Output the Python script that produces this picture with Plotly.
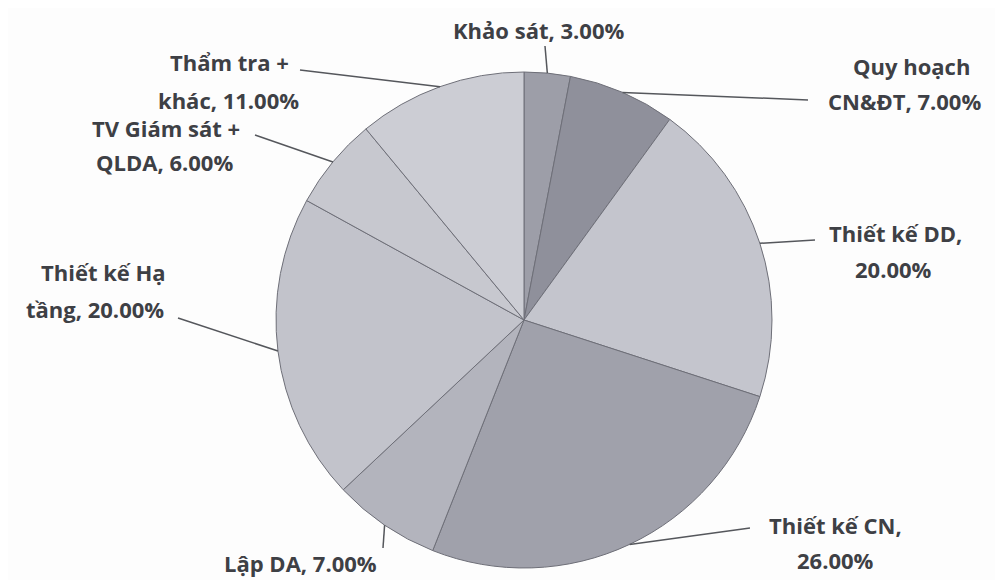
import math
import plotly.graph_objects as go

categories = ["Khảo sát", "Quy hoạch CN&ĐT", "Thiết kế DD", "Thiết kế CN",
              "Lập DA", "Thiết kế Hạ tầng", "TV Giám sát + QLDA", "Thẩm tra + khác"]
values = [3.0, 7.0, 20.0, 26.0, 7.0, 20.0, 6.0, 11.0]
colors = ["#9d9ea8", "#8f909b", "#c4c5cd", "#a0a1ab", "#b3b4bd", "#c2c3cb", "#c7c8cf", "#cccdd4"]

label_lines = [
    ["Khảo sát, 3.00%"],
    ["Quy hoạch", "CN&ĐT, 7.00%"],
    ["Thiết kế DD,", "20.00%"],
    ["Thiết kế CN,", "26.00%"],
    ["Lập DA, 7.00%"],
    ["Thiết kế Hạ", "tầng, 20.00%"],
    ["TV Giám sát +", "QLDA, 6.00%"],
    ["Thẩm tra +", "khác, 11.00%"],
]
# positions in page pixels of the 1003x580 view
label_pos = [
    [(538, 30)],
    [(911, 66), (904, 101)],
    [(895, 233), (893, 269)],
    [(835, 525), (835, 560)],
    [(300, 563)],
    [(103, 272), (95, 309)],
    [(166, 128), (164, 162)],
    [(229, 62), (228, 100)],
]
leader_end = [(545, 46), (808, 100), (815, 240), (750, 528), (383, 548),
              (178, 318), (255, 135), (300, 70)]

OFF = 8  # page body margin
W, H = 1003 - OFF, 580 - OFF
cx, cy, R = 524 - OFF, 320 - OFF, 248

fig = go.Figure(go.Pie(
    labels=categories, values=values, sort=False, direction="clockwise", rotation=0,
    marker=dict(colors=colors, line=dict(color="#6e6f78", width=1)),
    textinfo="none", hoverinfo="label+percent", showlegend=False,
    domain=dict(x=[(cx - R) / W, (cx + R) / W], y=[1 - (cy + R) / H, 1 - (cy - R) / H]),
))

def px(x, y):
    return x / W, 1 - y / H

total = sum(values)
cum = 0.0
shapes = []
annotations = []
for i, v in enumerate(values):
    mid = (cum + v / 2) / total * 2 * math.pi
    cum += v
    ex = cx + R * math.sin(mid)
    ey = cy - R * math.cos(mid)
    x0, y0 = px(ex, ey)
    x1, y1 = px(leader_end[i][0] - OFF, leader_end[i][1] - OFF)
    shapes.append(dict(type="line", xref="paper", yref="paper", x0=x0, y0=y0, x1=x1, y1=y1,
                       line=dict(color="#55575c", width=1.5)))
    for text, (lx, ly) in zip(label_lines[i], label_pos[i]):
        ax, ay = px(lx - OFF, ly - OFF)
        annotations.append(dict(text="<b>" + text + "</b>", x=ax, y=ay, xref="paper", yref="paper",
                                xanchor="center", yanchor="middle", showarrow=False,
                                font=dict(family="Open Sans, Lato, sans-serif", size=22, color="#3e4045")))

fig.update_layout(width=W, height=H, margin=dict(l=0, r=0, t=0, b=0),
                  paper_bgcolor="#fdfdfd", plot_bgcolor="#fdfdfd",
                  shapes=shapes, annotations=annotations)
fig.write_html("out.html")
